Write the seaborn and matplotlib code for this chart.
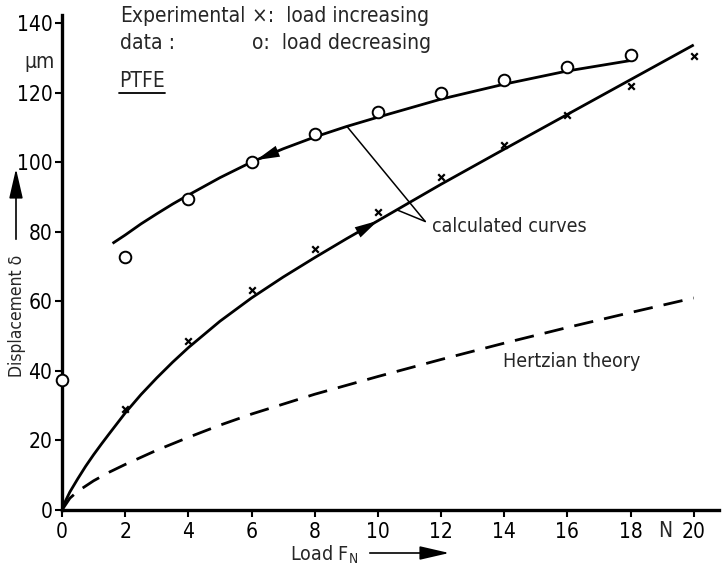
import numpy as np
import pandas as pd
import matplotlib
matplotlib.use("Agg")
import matplotlib.pyplot as plt
import seaborn as sns

# Measured displacement of a PTFE contact (load in N, displacement in um)
load_inc = [2, 4, 6, 8, 10, 12, 14, 16, 18, 20]
disp_inc = [29.0, 48.6, 63.3, 75.2, 85.8, 95.7, 105.0, 113.7, 122.0, 130.7]

load_dec = [0, 2, 4, 6, 8, 10, 12, 14, 16, 18]
disp_dec = [37.3, 72.9, 89.4, 100.2, 108.2, 114.5, 119.9, 123.7, 127.5, 130.9]

# Calculated curves (load increasing / decreasing)
calc_inc_load = [0, 0.1, 0.25, 0.5, 0.75, 1, 1.25, 1.5, 2, 2.5, 3, 3.5, 4, 5, 6,
                 7, 8, 9, 10, 12, 14, 16, 18, 20]
calc_inc_disp = [0, 2.4, 5.2, 9.0, 12.6, 15.9, 19.0, 22.0, 27.9, 33.2, 38.0,
                 42.5, 46.7, 54.3, 61.0, 67.0, 72.6, 78.0, 83.2, 93.7, 103.8,
                 113.8, 123.8, 133.8]

calc_dec_load = [1.6, 2, 2.5, 3, 3.5, 4, 5, 6, 7, 8, 9, 10, 12, 14, 16, 18]
calc_dec_disp = [76.7, 79.1, 82.3, 85.2, 88.0, 90.6, 95.6, 100.1, 103.9, 107.3,
                 110.3, 113.0, 118.2, 122.5, 126.3, 129.3]

# Hertzian theory
hertz_load = [0, 0.25, 0.5, 1, 1.5, 2, 3, 4, 5, 6, 8, 10, 12, 14, 16, 18, 20]
hertz_disp = [0, 3.4, 5.4, 8.4, 10.9, 13.1, 17.2, 20.9, 24.4, 27.6, 33.3,
              38.4, 43.3, 48.0, 52.5, 56.8, 61.0]

x_ticks = [0, 2, 4, 6, 8, 10, 12, 14, 16, 18, 20]
x_tick_labels = ["0", "2", "4", "6", "8", "10", "12", "14", "16", "18", "20"]
y_ticks = [0, 20, 40, 60, 80, 100, 120, 140]
y_tick_labels = ["0", "20", "40", "60", "80", "100", "120", "140"]

sns.set_theme(style="ticks")
plt.rcParams["font.family"] = ["DejaVu Sans"]
plt.rcParams["font.stretch"] = "condensed"
plt.rcParams["mathtext.fontset"] = "dejavusans"

fig = plt.figure(figsize=(7.22, 5.70), dpi=100)
ax = fig.add_axes([62 / 722, 60 / 570, (719 - 62) / 722, (555 - 60) / 570])

ink = "black"
df_inc = pd.DataFrame({"load": calc_inc_load, "disp": calc_inc_disp})
df_dec = pd.DataFrame({"load": calc_dec_load, "disp": calc_dec_disp})
df_hz = pd.DataFrame({"load": hertz_load, "disp": hertz_disp})

sns.lineplot(data=df_inc, x="load", y="disp", color=ink, lw=2.0, ax=ax)
sns.lineplot(data=df_dec, x="load", y="disp", color=ink, lw=2.0, ax=ax)
sns.lineplot(data=df_hz, x="load", y="disp", color=ink, lw=2.0, ax=ax)
ax.lines[-1].set_dashes((7, 4))
for ln in ax.lines:
    ln.set_solid_capstyle("butt")
    ln.set_dash_capstyle("butt")
    ln.set_solid_joinstyle("round")

sns.scatterplot(x=load_inc, y=disp_inc, marker="x", s=22, color=ink,
                linewidth=1.6, ax=ax, zorder=5)
sns.scatterplot(x=load_dec, y=disp_dec, marker="o", s=70, facecolor="white",
                edgecolor=ink, linewidth=1.4, ax=ax, zorder=5, clip_on=False)

# Direction arrows placed on the calculated curves
def curve_arrow(xs, ys, x_from, x_to):
    y_from = np.interp(x_from, xs, ys)
    y_to = np.interp(x_to, xs, ys)
    ax.annotate("", xy=(x_to, y_to), xytext=(x_from, y_from),
                arrowprops=dict(arrowstyle="-|>,head_length=1.4,head_width=0.35",
                                color=ink, lw=0, shrinkA=0, shrinkB=0),
                zorder=6)

curve_arrow(calc_dec_load, calc_dec_disp, 7.3, 6.15)
curve_arrow(calc_inc_load, calc_inc_disp, 9.1, 10.0)

# Leader lines for the "calculated curves" label
tip = (11.5, 83.0)
ax.plot([9.02, tip[0]], [np.interp(9.02, calc_dec_load, calc_dec_disp), tip[1]],
        color=ink, lw=1.1)
ax.plot([10.6, tip[0]], [np.interp(10.6, calc_inc_load, calc_inc_disp), tip[1]],
        color=ink, lw=1.1)
ax.text(11.72, 81.5, "calculated curves", fontsize=14, va="center", ha="left")
ax.text(13.95, 42.6, "Hertzian theory", fontsize=14, va="center", ha="left")

# Header texts
ax.text(1.84, 142.2, "Experimental", fontsize=15, va="center", ha="left",
        clip_on=False)
ax.text(1.84, 134.3, "data :", fontsize=15, va="center", ha="left")
ax.text(6.0, 142.2, "×:  load increasing", fontsize=15, va="center", ha="left",
        clip_on=False)
ax.text(6.0, 134.3, "o:  load decreasing", fontsize=15, va="center", ha="left")
ptfe = ax.text(1.8, 123.3, "PTFE", fontsize=15, va="center", ha="left")

ax.set_xlim(0, 20.8)
ax.set_ylim(0, 142.4)
ax.set_xticks(x_ticks, x_tick_labels)
ax.set_yticks(y_ticks, y_tick_labels)
ax.tick_params(axis="both", direction="out", length=5, width=1.5,
               labelsize=15, color=ink, labelcolor=ink, pad=2)
ax.tick_params(axis="x", pad=4)
sns.despine(ax=ax)
for side in ("left", "bottom"):
    ax.spines[side].set_linewidth(2.4)
    ax.spines[side].set_color(ink)
ax.set_xlabel("")
ax.set_ylabel("")

# Unit labels
ax.text(19.1, -3.2, "N", fontsize=15, ha="center", va="top")
ax.text(-0.22, 128.9, "µm", fontsize=15, ha="right", va="center", clip_on=False)

# Axis titles with arrows
fig.text(290 / 722, 1 - 555 / 570, r"Load F$_{\mathrm{N}}$", fontsize=14,
         ha="left", va="center")
fig.add_artist(matplotlib.patches.FancyArrowPatch(
    (367 / 722, 1 - 553 / 570), (452 / 722, 1 - 553 / 570),
    transform=fig.transFigure, arrowstyle="-|>,head_length=1.3,head_width=0.3",
    color=ink, lw=1.2, mutation_scale=14))
fig.text(17 / 722, 1 - 316 / 570, "Displacement δ", fontsize=12.5, rotation=90,
         ha="center", va="center")
fig.add_artist(matplotlib.patches.FancyArrowPatch(
    (16 / 722, 1 - 242 / 570), (16 / 722, 1 - 166 / 570),
    transform=fig.transFigure, arrowstyle="-|>,head_length=1.3,head_width=0.3",
    color=ink, lw=1.2, mutation_scale=14))

# Underline the material name
fig.canvas.draw()
bb = ptfe.get_window_extent().transformed(ax.transData.inverted())
ax.plot([bb.x0, bb.x1], [bb.y0 - 0.6, bb.y0 - 0.6], color=ink, lw=1.3)

fig.savefig("out.png", dpi=100)
